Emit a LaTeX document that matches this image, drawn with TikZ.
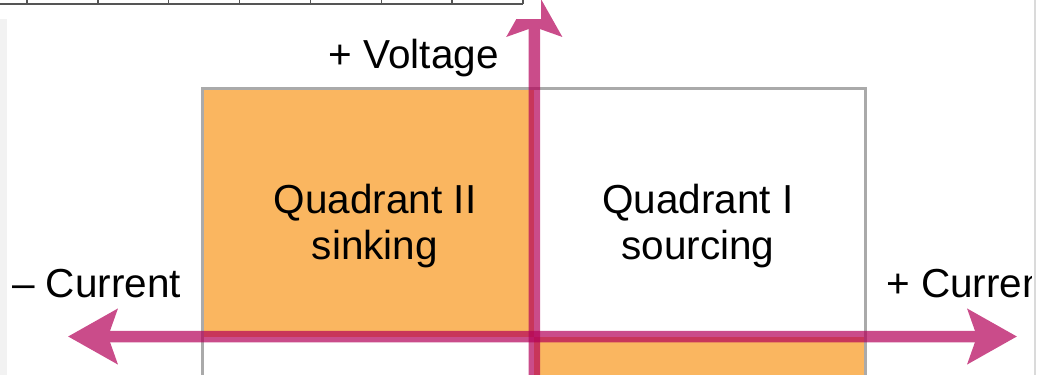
\documentclass[tikz,border=0pt]{standalone}
\usepackage{fontspec}
\setmainfont{Liberation Sans}
\usepackage{xcolor}
\definecolor{quadorange}{RGB}{250,182,96}
\definecolor{axispink}{RGB}{179,0,88}
\definecolor{framegray}{RGB}{170,170,170}
\definecolor{tablegray}{RGB}{85,85,85}
\definecolor{stripgray}{RGB}{242,242,242}
\definecolor{edgegray}{RGB}{218,218,218}
\usetikzlibrary{arrows.meta,positioning}

\begin{document}
\begin{tikzpicture}[
  x=1pt, y=-1pt,
  font=\fontsize{40.5}{46}\selectfont,
  lbl/.style={inner sep=0pt, align=center},
  ax/.style={line width=11.5pt, draw=axispink},
  bigtip/.tip={Stealth[length=49pt, width=54pt, inset=9pt]}
]
\useasboundingbox (0,0) rectangle (1037,375);
\clip (0,0) rectangle (1037,375);

%% quadrant fills and frame
\fill[quadorange] (202,88) rectangle (534.3,336.5);
\fill[quadorange] (534.3,336.5) rectangle (865,390);
\draw[framegray, line width=3pt] (202,390) -- (202,88) -- (865,88) -- (865,390);

%% labels
\node[lbl, anchor=base east] (volt) at (499,68) {+ Voltage};
\node[lbl, anchor=base] (q2) at (375,259) {Quadrant II\\sinking};
\node[lbl, anchor=base] (q1) at (698,259) {Quadrant I\\sourcing};
\node[lbl, anchor=base west] (curneg) at (12,297) {\textendash{} Current};
\node[lbl, anchor=base west] (curpos) at (886,297) {+ Current};

%% axes
\coordinate (vbot) at (534.3,390);
\coordinate (vtop) at (534.3,-13);
\coordinate (hleft) at (68,336.5);
\coordinate (hright) at (1017,336.5);
\begin{scope}[transparency group, opacity=0.7]
  \draw[ax, -bigtip] (vbot) -- (vtop);
\end{scope}
\begin{scope}[transparency group, opacity=0.7]
  \draw[ax, bigtip-bigtip] (hleft) -- (hright);
\end{scope}

%% table strip at the top
\fill[white] (0,0) rectangle (541,19);
\draw[tablegray, line width=2pt] (0,4) -- (523,4);
\foreach \i in {0,...,7}
  \draw[tablegray, line width=1.5pt] ({27+70.86*\i},0) -- ({27+70.86*\i},4);
\fill[stripgray] (0,19) rectangle (7,375);

%% right edge
\fill[white] (1032,0) rectangle (1037,375);
\fill[edgegray] (1033.5,0) rectangle (1036,375);
\end{tikzpicture}
\end{document}
